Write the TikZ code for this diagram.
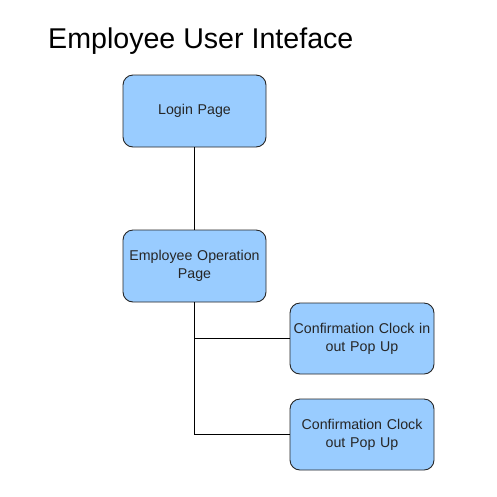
\documentclass[tikz,border=0pt]{standalone}
\usepackage{fontspec}
\setmainfont{Liberation Sans}
\begin{document}
\begin{tikzpicture}[x=1pt,y=-1pt,
  box/.style={draw=black!85, fill=boxblue, rounded corners=10pt, line width=0.9pt,
    minimum width=143pt, minimum height=72pt, align=center, text width=142pt,
    font=\fontsize{14.2}{18}\selectfont, text=black!85, inner sep=0pt},
  link/.style={draw=black, line width=0.9pt}]
\definecolor{boxblue}{HTML}{99CCFF}
\useasboundingbox[fill=white] (0,0) rectangle (497,496);
\node[anchor=base west, font=\fontsize{28.6}{34}\selectfont, inner sep=0pt] (title) at (48,48) {Employee User Inteface};
\node[box] (login) at (194.5,111) {Login Page};
\node[box] (oper) at (194.5,266) {Employee Operation\\Page};
\node[box, minimum width=144pt, minimum height=71pt] (cin) at (362,338.5) {Confirmation Clock in\\out Pop Up};
\node[box, minimum width=144pt, minimum height=71pt] (cout) at (362,434.5) {Confirmation Clock\\out Pop Up};
\draw[link] (login) -- (oper);
\draw[link] (oper.south) -- (oper.south |- cout.west) -- (cout.west);
\draw[link] (oper.south |- cin.west) -- (cin.west);
\end{tikzpicture}
\end{document}
